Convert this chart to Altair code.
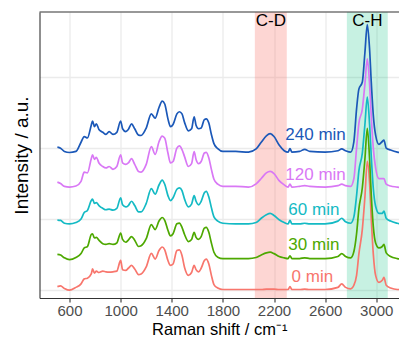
import altair as alt
import pandas as pd

# Raman shift positions (cm^-1) at which intensities were read
shift = [505, 530, 560, 600, 650,
         690, 715, 740, 770, 780,
         795, 810, 830, 860, 885,
         910, 940, 970, 1000, 1015,
         1040, 1060, 1085, 1110, 1140,
         1160, 1200, 1240, 1270, 1300,
         1325, 1345, 1370, 1390, 1410,
         1440, 1460, 1480, 1500, 1530,
         1555, 1575, 1590, 1610, 1630,
         1655, 1670, 1690, 1710, 1730,
         1760, 1800, 1900, 2000, 2060,
         2100, 2140, 2170, 2200, 2240,
         2280, 2310, 2325, 2340, 2400,
         2440, 2480, 2600, 2700, 2730,
         2760, 2800, 2825, 2846, 2864,
         2891, 2911, 2930, 2948, 2961,
         2977, 2995, 3021, 3047, 3060,
         3078, 3112, 3165, 3195]

int_0 = [0.04, 0.05, 0.015, -0.01, 0.03,
         0.08, 0.15, 0.16, 0.22, 0.29,
         0.23, 0.26, 0.24, 0.26, 0.25,
         0.245, 0.25, 0.26, 0.41, 0.28,
         0.27, 0.30, 0.34, 0.29, 0.21,
         0.22, 0.32, 0.51, 0.43, 0.55,
         0.60, 0.56, 0.41, 0.34, 0.36,
         0.55, 0.56, 0.48, 0.31, 0.20,
         0.24, 0.34, 0.28, 0.25, 0.30,
         0.41, 0.43, 0.36, 0.20, 0.07,
         0.02, 0.0, 0.0, 0.0, 0.0,
         0.0, 0.005, 0.005, 0.005, 0.0,
         0.0, 0.0, 0.04, 0.0, 0.0,
         0.005, 0.0, 0.0, 0.03, 0.08,
         0.03, 0.01, 0.06, 0.20, 0.50,
         0.85, 1.30, 1.81, 1.50, 1.00,
         0.50, 0.20, 0.10, 0.13, 0.17,
         0.06, 0.02, 0.0, 0.0]

int_30 = [0.06, 0.05, 0.01, -0.015, 0.015,
          0.07, 0.15, 0.17, 0.34, 0.35,
          0.29, 0.30, 0.26, 0.21, 0.20,
          0.21, 0.20, 0.22, 0.36, 0.27,
          0.23, 0.26, 0.31, 0.26, 0.17,
          0.18, 0.28, 0.48, 0.41, 0.53,
          0.58, 0.54, 0.40, 0.32, 0.35,
          0.49, 0.50, 0.44, 0.34, 0.24,
          0.27, 0.37, 0.30, 0.27, 0.31,
          0.43, 0.44, 0.37, 0.22, 0.09,
          0.02, 0.0, 0.0, 0.0, 0.015,
          0.05, 0.08, 0.09, 0.07, 0.03,
          0.01, 0.0, 0.04, 0.0, 0.0,
          0.01, 0.0, 0.0, 0.03, 0.07,
          0.03, 0.01, 0.10, 0.35, 0.70,
          1.00, 1.40, 1.84, 1.40, 0.90,
          0.45, 0.22, 0.15, 0.17, 0.20,
          0.08, 0.03, 0.0, -0.01]

int_60 = [0.055, 0.05, 0.01, 0.0, 0.02,
          0.07, 0.16, 0.19, 0.33, 0.35,
          0.29, 0.30, 0.26, 0.22, 0.20,
          0.21, 0.195, 0.22, 0.37, 0.27,
          0.24, 0.26, 0.32, 0.26, 0.17,
          0.17, 0.29, 0.50, 0.42, 0.55,
          0.62, 0.56, 0.40, 0.33, 0.37,
          0.49, 0.51, 0.47, 0.35, 0.24,
          0.28, 0.40, 0.32, 0.27, 0.32,
          0.44, 0.46, 0.38, 0.23, 0.10,
          0.04, 0.01, 0.0, 0.0, 0.02,
          0.08, 0.13, 0.15, 0.12, 0.06,
          0.02, 0.0, 0.05, 0.0, 0.0,
          0.01, 0.0, 0.0, 0.04, 0.08,
          0.03, 0.01, 0.10, 0.40, 0.75,
          1.00, 1.40, 1.79, 1.40, 0.95,
          0.50, 0.25, 0.15, 0.15, 0.18,
          0.08, 0.04, 0.01, 0.0]

int_120 = [0.07, 0.05, 0.01, 0.0, 0.014,
           0.08, 0.21, 0.20, 0.40, 0.456,
           0.39, 0.42, 0.34, 0.29, 0.27,
           0.29, 0.25, 0.29, 0.456, 0.34,
           0.32, 0.34, 0.40, 0.32, 0.22,
           0.21, 0.32, 0.57, 0.46, 0.64,
           0.72, 0.69, 0.48, 0.34, 0.36,
           0.55, 0.58, 0.53, 0.43, 0.29,
           0.33, 0.50, 0.39, 0.33, 0.36,
           0.48, 0.49, 0.41, 0.25, 0.11,
           0.04, 0.01, 0.01, 0.0, 0.045,
           0.12, 0.20, 0.22, 0.19, 0.09,
           0.03, 0.0, 0.04, 0.0, 0.01,
           0.02, 0.01, 0.0, 0.02, 0.04,
           0.02, 0.01, 0.12, 0.55, 0.90,
           1.10, 1.45, 1.81, 1.45, 1.00,
           0.55, 0.27, 0.12, 0.12, 0.12,
           0.04, 0.015, 0.0, -0.01]

int_240 = [0.07, 0.056, 0.01, -0.005, 0.01,
           0.14, 0.22, 0.20, 0.38, 0.44,
           0.36, 0.40, 0.32, 0.28, 0.25,
           0.29, 0.25, 0.28, 0.44, 0.33,
           0.29, 0.32, 0.40, 0.33, 0.24,
           0.235, 0.34, 0.54, 0.48, 0.63,
           0.72, 0.68, 0.47, 0.36, 0.39,
           0.54, 0.57, 0.54, 0.42, 0.30,
           0.33, 0.50, 0.38, 0.33, 0.34,
           0.46, 0.47, 0.41, 0.25, 0.12,
           0.05, 0.01, 0.01, 0.0, 0.045,
           0.14, 0.23, 0.26, 0.22, 0.10,
           0.02, 0.0, 0.05, 0.0, 0.01,
           0.04, 0.01, 0.0, 0.02, 0.045,
           0.02, 0.0, 0.15, 0.61, 0.89,
           0.99, 1.40, 1.80, 1.45, 0.99,
           0.52, 0.24, 0.11, 0.15, 0.17,
           0.056, 0.03, 0.0, -0.01]

series = ["0 min", "30 min", "60 min", "120 min", "240 min"]
offsets = [0.0, 0.437, 0.926, 1.447, 1.94]
colors = ["#F8766D", "#4DA800", "#14BAC4", "#D978F5", "#1B58B8"]

label_x = [2500, 2512, 2512, 2525, 2525]
label_y = [0.172, 0.623, 1.125, 1.62, 2.18]

band_names = ["C-D", "C-H"]
band_start = [2050, 2770]
band_end = [2300, 3090]
band_colors = ["#F8766D", "#00BF7D"]
band_alpha = [0.3, 0.22]
band_label_y = [3.79, 3.79]

rows = []
for name, off, vals in zip(series, offsets, [int_0, int_30, int_60, int_120, int_240]):
    for x, v in zip(shift, vals):
        rows.append({"shift": x, "y": v + off, "series": name})
df = pd.DataFrame(rows)

labels_df = pd.DataFrame({"series": series, "x": label_x, "y": label_y})
bands_df = pd.DataFrame({
    "name": band_names, "x1": band_start, "x2": band_end,
    "fill": band_colors, "alpha": band_alpha,
    "xm": [(a + b) / 2 for a, b in zip(band_start, band_end)],
    "ly": band_label_y,
})

W, H = 359.5, 286
FONT = "Liberation Sans"
BORDER = "#333333"
xscale = alt.Scale(domain=[365, 3178], nice=False, zero=False)
yscale = alt.Scale(domain=[-0.12, 3.919], nice=False, zero=False)
cscale = alt.Scale(domain=series, range=colors)

xaxis = alt.Axis(values=[600, 1000, 1400, 1800, 2200, 2600, 3000],
                 title="Raman shift / cm\u207b\u00b9", format="d",
                 labelFontSize=15, labelColor="#4D4D4D", labelFont=FONT,
                 tickColor=BORDER, tickSize=4, tickWidth=1.1, labelPadding=1.5,
                 titleFontSize=16.5, titleColor="black", titleFont=FONT,
                 titleFontWeight="normal", titleY=36.3, titleBaseline="alphabetic",
                 grid=True, gridColor="#EBEBEB", gridWidth=1.3,
                 domain=True, domainColor=BORDER, domainWidth=1.1)
yaxis = alt.Axis(values=[0, 1, 2, 3], labels=False, ticks=False,
                 domain=True, domainColor=BORDER, domainWidth=1.1,
                 title="Intensity / a.u.", titleFontSize=19, titleColor="black",
                 titleFont=FONT, titleFontWeight="normal", titlePadding=8,
                 grid=True, gridColor="#EBEBEB", gridWidth=1.3)

rects = alt.Chart(bands_df).mark_rect().encode(
    x=alt.X("x1:Q", scale=xscale, axis=xaxis),
    x2="x2:Q",
    y=alt.value(0),
    y2=alt.value(H),
    color=alt.Color("fill:N", scale=None),
    opacity=alt.Opacity("alpha:Q", scale=None),
)

band_text = alt.Chart(bands_df).mark_text(fontSize=17, font=FONT, color="black",
                                          baseline="middle", align="center").encode(
    x=alt.X("xm:Q", scale=xscale),
    y=alt.Y("ly:Q", scale=yscale, axis=yaxis),
    text="name:N",
)

lines = alt.Chart(df).mark_line(interpolate="monotone", strokeWidth=1.7, clip=True).encode(
    x=alt.X("shift:Q", scale=xscale, axis=xaxis),
    y=alt.Y("y:Q", scale=yscale, axis=yaxis),
    color=alt.Color("series:N", scale=cscale, legend=None),
)

texts = alt.Chart(labels_df).mark_text(fontSize=17, font=FONT, baseline="middle",
                                       align="center").encode(
    x=alt.X("x:Q", scale=xscale),
    y=alt.Y("y:Q", scale=yscale),
    text="series:N",
    color=alt.Color("series:N", scale=cscale, legend=None),
)

top_border = alt.Chart(pd.DataFrame({"k": [0]})).mark_rule(
    color=BORDER, strokeWidth=1.1).encode(
    x=alt.value(0), x2=alt.value(W), y=alt.value(0)
)

chart = alt.layer(rects, band_text, lines, texts, top_border).properties(
    width=W, height=H,
    autosize=alt.AutoSizeParams(type="none"),
    padding={"left": 31.5, "top": 4, "right": 0, "bottom": 40},
).configure_view(stroke="transparent", strokeWidth=0)

chart.save("out.html", embed_options={"renderer": "svg", "actions": False})
